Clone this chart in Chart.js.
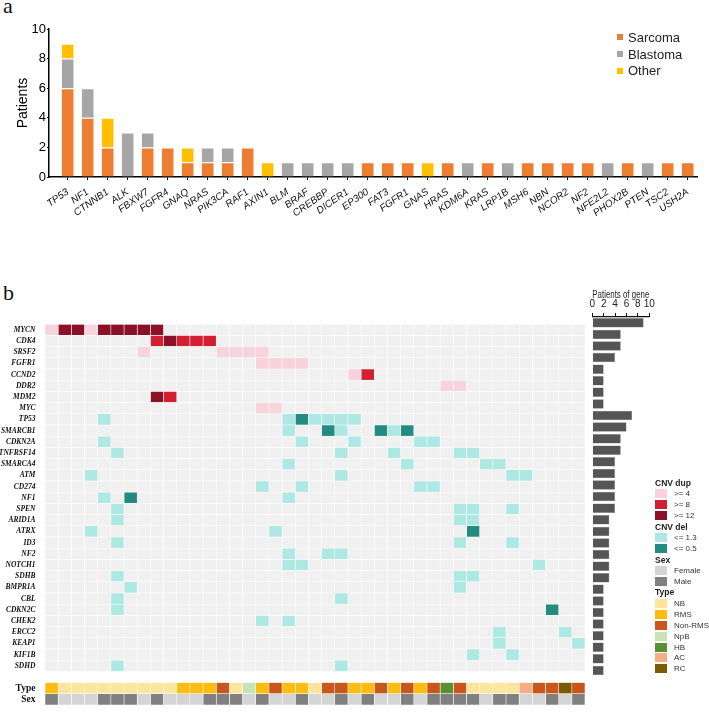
<!DOCTYPE html>
<html>
<head>
<meta charset="utf-8">
<title>Mutated genes and CNV</title>
<script src="https://cdn.jsdelivr.net/npm/chart.js@4.4.0/dist/chart.umd.min.js"></script>
<style>
  body { margin: 0; background: #fff; }
  #page { position: relative; width: 709px; height: 712px; overflow: hidden; font-family: "Liberation Sans", Arial, sans-serif; }
  canvas { position: absolute; }
  .tag { position: absolute; left: 3px; font: 22px/1 "Liberation Serif", serif; color: #111; }
  #legend-a { position: absolute; left: 617px; top: 29px; font-size: 13px; color: #222; }
  #legend-a .row { height: 16.7px; display: flex; align-items: center; }
  #legend-a .box { width: 6px; height: 6px; margin-right: 5px; }
  #legend-b { position: absolute; left: 655px; top: 477.5px; font-size: 8px; color: #333; }
  #legend-b .row { height: 10.94px; display: flex; align-items: center; white-space: nowrap; }
  #legend-b .title { font-weight: bold; font-size: 8.5px; color: #222; }
  #legend-b .box { width: 12px; height: 9px; margin-right: 7px; }
</style>
</head>
<body>
<div id="page">
  <div class="tag" style="top:-5px">a</div>
  <div class="tag" style="top:282px">b</div>
  <canvas id="mutChart" width="709" height="240" style="left:0;top:0"></canvas>
  <div id="legend-a"></div>
  <canvas id="cnvChart" width="586" height="394" style="left:0;top:317px"></canvas>
  <canvas id="countChart" width="80" height="427" style="left:580px;top:285px"></canvas>
  <div id="legend-b"></div>
</div>

<script>
// ---- panel a: mutated genes ----
var mutGenes = ['TP53', 'NF1', 'CTNNB1', 'ALK', 'FBXW7', 'FGFR4', 'GNAQ', 'NRAS', 'PIK3CA', 'RAF1',
  'AXIN1', 'BLM', 'BRAF', 'CREBBP', 'DICER1', 'EP300', 'FAT3', 'FGFR1', 'GNAS', 'HRAS', 'KDM6A',
  'KRAS', 'LRP1B', 'MSH6', 'NBN', 'NCOR2', 'NF2', 'NFE2L2', 'PHOX2B', 'PTEN', 'TSC2', 'USH2A'];
var sarcoma  = [6, 4, 2, 0, 2, 2, 1, 1, 1, 2, 0, 0, 0, 0, 0, 1, 1, 1, 0, 1, 0, 1, 0, 1, 1, 1, 1, 0, 1, 0, 1, 1];
var blastoma = [2, 2, 0, 3, 1, 0, 0, 1, 1, 0, 0, 1, 1, 1, 1, 0, 0, 0, 0, 0, 1, 0, 1, 0, 0, 0, 0, 1, 0, 1, 0, 0];
var other    = [1, 0, 2, 0, 0, 0, 1, 0, 0, 0, 1, 0, 0, 0, 0, 0, 0, 0, 1, 0, 0, 0, 0, 0, 0, 0, 0, 0, 0, 0, 0, 0];
var patientTicks = [0, 2, 4, 6, 8, 10];

// ---- panel b: copy number heatmap ----
var cnvGenes = ['MYCN', 'CDK4', 'SRSF2', 'FGFR1', 'CCND2', 'DDR2', 'MDM2', 'MYC', 'TP53', 'SMARCB1',
  'CDKN2A', 'TNFRSF14', 'SMARCA4', 'ATM', 'CD274', 'NF1', 'SPEN', 'ARID1A', 'ATRX', 'ID3', 'NF2',
  'NOTCH1', 'SDHB', 'BMPR1A', 'CBL', 'CDKN2C', 'CHEK2', 'ERCC2', 'KEAP1', 'KIF1B', 'SDHD'];
// gene, level, sample columns (0-based)
var cnvCalls = [
  ['MYCN', 'dup4', [0, 3]],
  ['MYCN', 'dup12', [1, 2, 4, 5, 6, 7, 8]],
  ['CDK4', 'dup8', [8, 10, 11, 12]],
  ['CDK4', 'dup12', [9]],
  ['SRSF2', 'dup4', [7, 13, 14, 15, 16]],
  ['FGFR1', 'dup4', [16, 17, 18, 19]],
  ['CCND2', 'dup4', [23]],
  ['CCND2', 'dup8', [24]],
  ['DDR2', 'dup4', [30, 31]],
  ['MDM2', 'dup12', [8]],
  ['MDM2', 'dup8', [9]],
  ['MYC', 'dup4', [16, 17]],
  ['TP53', 'del13', [4, 18, 20, 21, 22, 23]],
  ['TP53', 'del05', [19]],
  ['SMARCB1', 'del13', [18, 22, 26]],
  ['SMARCB1', 'del05', [21, 25, 27]],
  ['CDKN2A', 'del13', [4, 19, 23, 28, 29]],
  ['TNFRSF14', 'del13', [5, 22, 26, 31, 32]],
  ['SMARCA4', 'del13', [18, 27, 33, 34]],
  ['ATM', 'del13', [3, 22, 35, 36]],
  ['CD274', 'del13', [16, 19, 28, 29]],
  ['NF1', 'del13', [4, 18]],
  ['NF1', 'del05', [6]],
  ['SPEN', 'del13', [5, 31, 32, 35]],
  ['ARID1A', 'del13', [5, 31, 32]],
  ['ATRX', 'del13', [3, 17]],
  ['ATRX', 'del05', [32]],
  ['ID3', 'del13', [5, 31, 35]],
  ['NF2', 'del13', [18, 21, 22]],
  ['NOTCH1', 'del13', [18, 19, 37]],
  ['SDHB', 'del13', [5, 31, 32]],
  ['BMPR1A', 'del13', [6, 31]],
  ['CBL', 'del13', [5, 22]],
  ['CDKN2C', 'del13', [5]],
  ['CDKN2C', 'del05', [38]],
  ['CHEK2', 'del13', [16, 18]],
  ['ERCC2', 'del13', [34, 39]],
  ['KEAP1', 'del13', [34, 40]],
  ['KIF1B', 'del13', [32, 35]],
  ['SDHD', 'del13', [5, 22]]
];
var sampleType = ['RMS', 'NB', 'NB', 'NB', 'NB', 'NB', 'NB', 'NB', 'NB', 'NB',
  'RMS', 'RMS', 'RMS', 'Non-RMS', 'NB', 'NpB', 'RMS', 'Non-RMS', 'RMS', 'RMS',
  'NB', 'Non-RMS', 'Non-RMS', 'RMS', 'RMS', 'Non-RMS', 'RMS', 'Non-RMS', 'RMS', 'Non-RMS',
  'HB', 'Non-RMS', 'NB', 'NB', 'NB', 'NB', 'AC', 'Non-RMS', 'Non-RMS', 'RC', 'Non-RMS'];
var sampleSex = ['Male', 'Female', 'Female', 'Female', 'Male', 'Male', 'Male', 'Female', 'Male', 'Female',
  'Female', 'Female', 'Male', 'Male', 'Male', 'Female', 'Male', 'Female', 'Female', 'Male',
  'Female', 'Female', 'Male', 'Female', 'Male', 'Female', 'Female', 'Male', 'Female', 'Male',
  'Male', 'Male', 'Male', 'Female', 'Male', 'Male', 'Female', 'Female', 'Male', 'Female', 'Male'];
var genePatients = [9, 5, 5, 4, 2, 2, 2, 2, 7, 6, 5, 5, 4, 4, 4, 4, 4, 3, 3, 3, 3, 3, 3, 2, 2, 2, 2, 2, 2, 2, 2];
var geneCountTicks = [0, 2, 4, 6, 8, 10];

var cnvColors = { dup4: '#f8d3dc', dup8: '#d21f32', dup12: '#8c1126', del13: '#aee8e2', del05: '#238b80' };
var sexColors = { Female: '#d4d4d4', Male: '#808080' };
var typeColors = { 'NB': '#fee49c', 'RMS': '#fcbd10', 'Non-RMS': '#c9561a', 'NpB': '#c8e4b6',
  'HB': '#5b9032', 'AC': '#f4ad84', 'RC': '#7b5c03' };

var sans = 'Liberation Sans';
var serif = 'Liberation Serif';

// ---------- panel a ----------
var mutChart = new Chart(document.getElementById('mutChart'), {
  type: 'bar',
  data: {
    datasets: [
      { label: 'Sarcoma', data: sarcoma.map(function(v, i) { return { x: i, y: v }; }), backgroundColor: '#ed7d31' },
      { label: 'Blastoma', data: blastoma.map(function(v, i) { return { x: i, y: v }; }), backgroundColor: '#a6a6a6' },
      { label: 'Other', data: other.map(function(v, i) { return { x: i, y: v }; }), backgroundColor: '#ffc000' }
    ]
  },
  options: {
    responsive: false,
    animation: false,
    barPercentage: 0.6,
    categoryPercentage: 1,
    borderColor: '#fff',
    borderWidth: { top: 1, left: 0, right: 0, bottom: 0 },
    layout: { padding: { top: 29, right: 11.3, left: 0, bottom: 0 } },
    plugins: { legend: { display: false }, tooltip: { enabled: false } },
    scales: {
      x: {
        type: 'linear', stacked: true, offset: false, min: -0.935, max: 31.5,
        afterBuildTicks: function(s) { s.ticks = mutGenes.map(function(g, i) { return { value: i }; }); },
        afterFit: function(s) { s.height = 63; },
        ticks: {
          autoSkip: false, minRotation: 35, maxRotation: 35, padding: 6, color: '#111',
          font: { family: sans, size: 10, style: 'italic' },
          callback: function(v) { return mutGenes[v]; }
        },
        grid: { drawOnChartArea: false, offset: false, tickLength: 3, color: '#000', lineWidth: 1 },
        border: { color: '#000', width: 1.5 }
      },
      y: {
        stacked: true, min: 0, max: 10,
        afterBuildTicks: function(s) { s.ticks = patientTicks.map(function(v) { return { value: v }; }); },
        afterFit: function(s) { s.width = 49; },
        ticks: { padding: 1, color: '#000', font: { family: sans, size: 13 } },
        title: { display: true, text: 'Patients', color: '#000', font: { family: sans, size: 14 }, padding: { top: 14.6, bottom: 0 } },
        grid: { drawOnChartArea: false, tickLength: 2, color: '#000', lineWidth: 1 },
        border: { color: '#000', width: 1.5 }
      }
    }
  }
});

// html legend for panel a
var legA = document.getElementById('legend-a');
mutChart.data.datasets.forEach(function(ds) {
  var row = document.createElement('div');
  row.className = 'row';
  row.innerHTML = '<span class="box" style="background:' + ds.backgroundColor + '"></span>' + ds.label;
  legA.appendChild(row);
});

// ---------- panel b heatmap ----------
var rowLabels = cnvGenes.concat(['', 'Type', 'Sex']);
var callMap = {};
cnvCalls.forEach(function(c) {
  c[2].forEach(function(col) { callMap[c[0] + '|' + col] = c[1]; });
});

function cellColor(rowIdx, col) {
  var name = rowLabels[rowIdx];
  if (name === 'Type') return typeColors[sampleType[col]];
  if (name === 'Sex') return sexColors[sampleSex[col]];
  var lvl = callMap[name + '|' + col];
  return lvl ? cnvColors[lvl] : '#f0f0f0';
}

var heatSets = [];
for (var c = 0; c < sampleType.length; c++) {
  heatSets.push({
    label: 'S' + (c + 1),
    data: rowLabels.map(function(n) { return n === '' ? null : [c, c + 1]; }),
    backgroundColor: rowLabels.map(function(n, r) { return cellColor(r, c); })
  });
}

var labelFont = function(ctx) {
  if (ctx.index < cnvGenes.length) return { family: serif, size: 7.5, style: 'italic', weight: 'bold' };
  return { family: serif, size: 9.5, weight: 'bold' };
};

new Chart(document.getElementById('cnvChart'), {
  type: 'bar',
  data: { labels: rowLabels, datasets: heatSets },
  options: {
    indexAxis: 'y',
    responsive: false,
    animation: false,
    grouped: false,
    barPercentage: 1,
    categoryPercentage: 1,
    borderColor: '#fff',
    borderWidth: 0.6,
    borderSkipped: false,
    layout: { padding: { left: 0, right: 1, top: 0, bottom: 0 } },
    plugins: { legend: { display: false }, tooltip: { enabled: false } },
    scales: {
      x: { type: 'linear', display: false, min: 0, max: sampleType.length },
      y: {
        afterFit: function(s) { s.width = 45; },
        ticks: { autoSkip: false, padding: 1.5, color: '#111', font: labelFont },
        grid: { display: false },
        border: { display: false }
      }
    }
  }
});

// ---------- panel b gene counts ----------
new Chart(document.getElementById('countChart'), {
  type: 'bar',
  data: {
    labels: rowLabels,
    datasets: [{
      label: 'Patients of gene',
      data: rowLabels.map(function(n, r) { return r < genePatients.length ? genePatients[r] : null; }),
      backgroundColor: '#555555',
      borderColor: '#8a8a8a',
      borderWidth: 0.5
    }]
  },
  options: {
    indexAxis: 'y',
    responsive: false,
    animation: false,
    barPercentage: 0.82,
    categoryPercentage: 1,
    layout: { padding: { left: 12.3, right: 10.7, top: 0, bottom: 1 } },
    plugins: { legend: { display: false }, tooltip: { enabled: false } },
    scales: {
      x: {
        position: 'top', min: 0, max: 10,
        afterBuildTicks: function(s) { s.ticks = geneCountTicks.map(function(v) { return { value: v }; }); },
        afterFit: function(s) { s.height = 32; },
        ticks: { autoSkip: false, maxRotation: 0, padding: 3, color: '#222', font: { family: sans, size: 10 } },
        title: { display: true, text: 'Patients of gene', color: '#222', font: { family: sans, size: 10 }, padding: { top: 4, bottom: 0 } },
        grid: { drawOnChartArea: false, tickLength: 4, color: '#111', lineWidth: 1 },
        border: { color: '#111', width: 1.2 }
      },
      y: { display: false }
    }
  }
});

// html legend for panel b
var legendGroups = [
  ['CNV dup', [['>= 4', cnvColors.dup4], ['>= 8', cnvColors.dup8], ['>= 12', cnvColors.dup12]]],
  ['CNV del', [['<= 1.3', cnvColors.del13], ['<= 0.5', cnvColors.del05]]],
  ['Sex', Object.keys(sexColors).map(function(k) { return [k, sexColors[k]]; })],
  ['Type', Object.keys(typeColors).map(function(k) { return [k, typeColors[k]]; })]
];
var legB = document.getElementById('legend-b');
legendGroups.forEach(function(g) {
  var t = document.createElement('div');
  t.className = 'row title';
  t.textContent = g[0];
  legB.appendChild(t);
  g[1].forEach(function(item) {
    var row = document.createElement('div');
    row.className = 'row';
    row.innerHTML = '<span class="box" style="background:' + item[1] + '"></span>' + item[0];
    legB.appendChild(row);
  });
});
</script>
</body>
</html>
